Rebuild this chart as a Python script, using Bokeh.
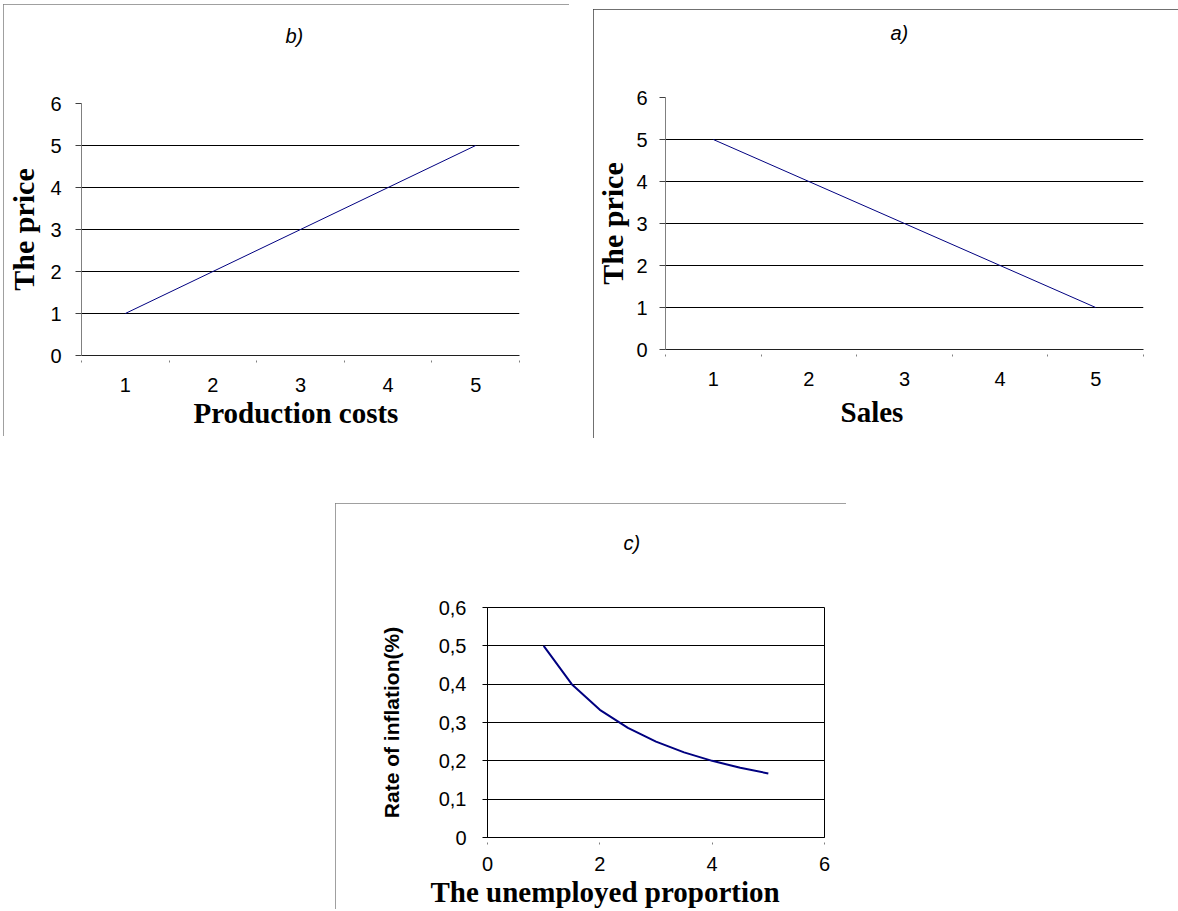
from bokeh.plotting import figure
from bokeh.models import FixedTicker, Title, Spacer, Range1d
from bokeh.layouts import row, column
from bokeh.embed import file_html
from bokeh.resources import INLINE

# ---------------- data ----------------
b_categories = ["1", "2", "3", "4", "5"]
b_price = [1, 2, 3, 4, 5]
a_categories = ["1", "2", "3", "4", "5"]
a_price = [5, 4, 3, 2, 1]
price_ticks = [0, 1, 2, 3, 4, 5, 6]

c_unemployed = [1, 1.5, 2, 2.5, 3, 3.5, 4, 4.5, 5]
c_inflation = [0.5, 0.4, 0.333, 0.286, 0.25, 0.222, 0.2, 0.182, 0.167]
c_xticks = [0, 2, 4, 6]
c_yticks = [0, 0.1, 0.2, 0.3, 0.4, 0.5, 0.6]
c_ytick_labels = ["0", "0,1", "0,2", "0,3", "0,4", "0,5", "0,6"]

SANS = "Liberation Sans"
SERIF = "Liberation Serif"
LINE = "#000080"
TICK_FS = "20px"


def add_titles(p, title, title_off, title_gap, xlabel, xlabel_off, xlabel_standoff):
    # invisible spacer panel between plot area and the chart caption
    p.add_layout(Title(text=" ", text_font=SANS, text_font_size="18px",
                       standoff=title_gap), "above")
    p.add_layout(Title(text=title, align="left", offset=title_off, standoff=0,
                       text_font=SANS, text_font_size="20px",
                       text_font_style="italic", text_color="black"), "above")
    p.add_layout(Title(text=xlabel, align="left", offset=xlabel_off,
                       standoff=xlabel_standoff, text_font=SERIF,
                       text_font_size="29px", text_font_style="bold",
                       text_color="black"), "below")


def price_chart(title, xlabel, cats, vals, frame_w, mb, title_off, title_gap,
                xlabel_off, xlabel_standoff, ylab_standoff, tick_standoff, border_color):
    xs = list(range(1, len(cats) + 1))
    p = figure(frame_width=frame_w, frame_height=252,
               x_range=Range1d(0.5, len(cats) + 0.5), y_range=Range1d(0, 6),
               output_backend="svg", toolbar_location=None,
               min_border_left=mb[0], min_border_right=mb[1],
               min_border_top=mb[2], min_border_bottom=mb[3])

    p.line(xs, vals, line_color=LINE, line_width=1)

    xa = p.xaxis[0]
    xa.ticker = FixedTicker(ticks=xs, minor_ticks=[x - 0.5 for x in xs] + [xs[-1] + 0.5])
    xa.major_label_overrides = {x: c for x, c in zip(xs, cats)}
    xa.major_tick_in = 0
    xa.major_tick_out = 0
    xa.minor_tick_in = -5
    xa.minor_tick_out = 7
    xa.minor_tick_line_color = "#808080"
    xa.axis_line_color = "#202020"
    xa.major_label_standoff = 15
    xa.major_label_text_font = SANS
    xa.major_label_text_font_size = TICK_FS
    xa.major_label_text_color = "black"

    ya = p.yaxis[0]
    ya.ticker = FixedTicker(ticks=price_ticks, minor_ticks=[])
    ya.major_tick_in = 0
    ya.major_tick_out = 6
    ya.minor_tick_out = 0
    ya.axis_line_color = "#808080"
    ya.major_tick_line_color = "#404040"
    ya.major_label_standoff = tick_standoff
    ya.major_label_text_font = SANS
    ya.major_label_text_font_size = TICK_FS
    ya.major_label_text_color = "black"
    ya.axis_label = "The price"
    ya.axis_label_text_font = SERIF
    ya.axis_label_text_font_style = "bold"
    ya.axis_label_text_font_size = "30px"
    ya.axis_label_text_color = "black"
    ya.axis_label_standoff = ylab_standoff

    p.ygrid.ticker = FixedTicker(ticks=price_ticks, minor_ticks=[])
    p.ygrid.grid_line_color = "black"
    p.xgrid.visible = False
    p.outline_line_color = None

    add_titles(p, title, title_off, title_gap, xlabel, xlabel_off, xlabel_standoff)
    p.styles = {"outline": f"1px solid {border_color}", "outline-offset": "-1px"}
    return p


pb = price_chart("b)", "Production costs", b_categories, b_price, 438,
                 (78, 50, 99, 81), 204, 35, 112, 0, 7, 14, "#808080")
pa = price_chart("a)", "Sales", a_categories, a_price, 478,
                 (70, 37, 88, 89), 225, 32, 175, 11, 4, 12, "#404040")

# ---------------- chart c ----------------
pc = figure(frame_width=337, frame_height=230,
            x_range=Range1d(0, 6), y_range=Range1d(0, 0.6),
            output_backend="svg", toolbar_location=None,
            min_border_left=152, min_border_right=22,
            min_border_top=104, min_border_bottom=72)

pc.line(c_unemployed, c_inflation, line_color=LINE, line_width=2)

cx = pc.xaxis[0]
cx.ticker = FixedTicker(ticks=c_xticks, minor_ticks=[])
cx.major_tick_in = -5
cx.major_tick_out = 7
cx.minor_tick_out = 0
cx.major_tick_line_color = "#808080"
cx.axis_line_color = "black"
cx.major_label_standoff = 12
cx.major_label_text_font = SANS
cx.major_label_text_font_size = TICK_FS
cx.major_label_text_color = "black"

cy = pc.yaxis[0]
cy.ticker = FixedTicker(ticks=c_yticks, minor_ticks=[])
cy.major_label_overrides = {v: s for v, s in zip(c_yticks, c_ytick_labels)}
cy.major_tick_in = 0
cy.major_tick_out = 5
cy.minor_tick_out = 0
cy.axis_line_color = "black"
cy.major_tick_line_color = "black"
cy.major_label_standoff = 16
cy.major_label_text_font = SANS
cy.major_label_text_font_size = TICK_FS
cy.major_label_text_color = "black"
cy.axis_label = "Rate of inflation(%)"
cy.axis_label_text_font = SANS
cy.axis_label_text_font_style = "bold"
cy.axis_label_text_font_size = "21px"
cy.axis_label_text_color = "black"
cy.axis_label_standoff = 33

pc.ygrid.ticker = FixedTicker(ticks=c_yticks, minor_ticks=[])
pc.ygrid.grid_line_color = "black"
pc.xgrid.visible = False
pc.outline_line_color = "black"

add_titles(pc, "c)", 136, 32, "The unemployed proportion", -57, 0)
pc.styles = {"outline": "1px solid #808080", "outline-offset": "-1px"}

layout = column(
    row(Spacer(width=3), column(Spacer(height=4), pb), Spacer(width=24),
        column(Spacer(height=9), pa)),
    Spacer(height=65),
    row(Spacer(width=335), pc),
)

open("out.html", "w").write(file_html(layout, INLINE))
